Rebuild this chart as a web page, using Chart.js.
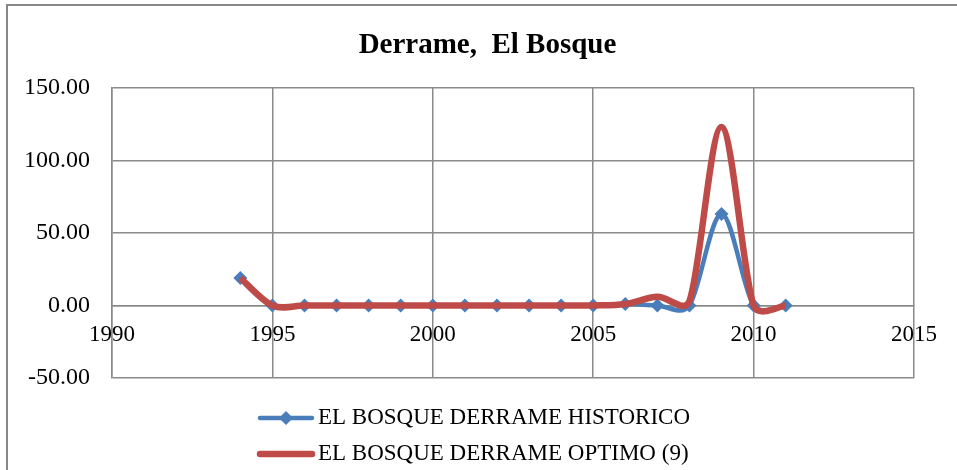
<!DOCTYPE html>
<html>
<head>
<meta charset="utf-8">
<script src="https://cdn.jsdelivr.net/npm/chart.js@4/dist/chart.umd.min.js"></script>
<style>
  html, body { margin: 0; padding: 0; background: #fff; }
  canvas { display: block; }
</style>
</head>
<body>
<canvas id="chart" width="957" height="470"></canvas>
<script>
const years = [1994, 1995, 1996, 1997, 1998, 1999, 2000, 2001, 2002, 2003, 2004, 2005, 2006, 2007, 2008, 2009, 2010, 2011];
const historico = [19, 0, 0, 0, 0, 0, 0, 0, 0, 0, 0, 0, 1, 0, 0, 63, 0, 0];
const optimo = [19, 0, 0, 0, 0, 0, 0, 0, 0, 0, 0, 0, 1, 6, 3, 123, 0, 0];
const xTicks = [1990, 1995, 2000, 2005, 2010, 2015];
const yTicks = [-50, 0, 50, 100, 150];
const seriesNames = ['EL BOSQUE DERRAME HISTORICO', 'EL BOSQUE DERRAME OPTIMO (9)'];

const BLUE = '#4A7EBB';
const RED = '#BE4B48';
const GRID = '#8a8a8a';
const SERIF = "'Liberation Serif', 'Times New Roman', serif";

function toPoints(values) {
  return years.map((y, i) => ({ x: y, y: values[i] }));
}

// outer chart frame (like the Excel chart border)
const framePlugin = {
  id: 'frame',
  beforeDraw(chart) {
    const ctx = chart.ctx;
    ctx.save();
    ctx.fillStyle = '#fff';
    ctx.fillRect(0, 0, chart.width, chart.height);
    ctx.strokeStyle = '#878787';
    ctx.lineWidth = 2;
    ctx.strokeRect(7, 5, chart.width + 10, chart.height + 10);
    ctx.restore();
  }
};

// Excel-like smoothing: Catmull-Rom handles, shortened next to short segments
const smoothPlugin = {
  id: 'smooth',
  beforeDatasetDraw(chart, args) {
    const line = args.meta.dataset;
    const pts = args.meta.data;
    line.updateControlPoints(chart.chartArea, 'x');
    pts.forEach((p, i) => {
      const prev = pts[i - 1] || p;
      const next = pts[i + 1] || p;
      const d01 = Math.hypot(p.x - prev.x, p.y - prev.y);
      const d12 = Math.hypot(next.x - p.x, next.y - p.y);
      const sum = d01 + d12 || 1;
      const fIn = Math.min(1 / 6, 0.5 * d01 / sum);
      const fOut = Math.min(1 / 6, 0.5 * d12 / sum);
      const dx = next.x - prev.x;
      const dy = next.y - prev.y;
      p.cp1x = p.x - dx * fIn;
      p.cp1y = p.y - dy * fIn;
      p.cp2x = p.x + dx * fOut;
      p.cp2y = p.y + dy * fOut;
    });
    delete line._path;
  }
};

// legend drawn under the plot, two rows, line symbols like Excel
const legendPlugin = {
  id: 'bottomLegend',
  afterDraw(chart) {
    const ctx = chart.ctx;
    const rows = [418, 454];
    ctx.save();
    chart.data.datasets.forEach((ds, i) => {
      const y = rows[i];
      ctx.strokeStyle = ds.borderColor;
      ctx.lineWidth = ds.borderWidth;
      ctx.lineCap = 'round';
      ctx.beginPath();
      ctx.moveTo(260, y);
      ctx.lineTo(312, y);
      ctx.stroke();
      if (ds.pointRadius > 0) {
        ctx.fillStyle = ds.borderColor;
        ctx.beginPath();
        ctx.moveTo(286 - 7, y);
        ctx.lineTo(286, y - 7);
        ctx.lineTo(286 + 7, y);
        ctx.lineTo(286, y + 7);
        ctx.closePath();
        ctx.fill();
      }
      ctx.fillStyle = '#000';
      ctx.font = '23px ' + SERIF;
      ctx.textBaseline = 'middle';
      ctx.textAlign = 'left';
      ctx.fillText(ds.label, 318, y);
    });
    ctx.restore();
  }
};

new Chart(document.getElementById('chart'), {
  type: 'line',
  data: {
    datasets: [
      {
        label: seriesNames[0],
        data: toPoints(historico),
        borderColor: BLUE,
        backgroundColor: BLUE,
        borderWidth: 4.5,
        pointStyle: 'rectRot',
        pointRadius: 7,
        pointBorderWidth: 0,
        pointBackgroundColor: BLUE,
        tension: 0.3,
        order: 2
      },
      {
        label: seriesNames[1],
        data: toPoints(optimo),
        borderColor: RED,
        backgroundColor: RED,
        borderWidth: 6.5,
        pointRadius: 0,
        tension: 0.3,
        order: 1
      }
    ]
  },
  options: {
    responsive: false,
    animation: false,
    layout: { padding: { left: 18, right: 0, top: 0, bottom: 92 } },
    plugins: {
      legend: { display: false },
      tooltip: { enabled: false },
      title: {
        display: true,
        text: 'Derrame,  El Bosque',
        color: '#000',
        font: { family: SERIF, size: 29, weight: 'bold' },
        padding: { top: 28, bottom: 25 }
      }
    },
    scales: {
      x: {
        type: 'linear',
        position: { y: 0 },
        min: xTicks[0],
        max: xTicks[xTicks.length - 1],
        afterBuildTicks(scale) {
          scale.ticks = xTicks.map(v => ({ value: v }));
        },
        ticks: {
          color: '#000',
          font: { family: SERIF, size: 23 },
          padding: 16,
          maxRotation: 0,
          callback: v => String(v)
        },
        grid: { color: GRID, lineWidth: 1.5, drawTicks: false },
        border: { color: GRID, width: 1.5 }
      },
      y: {
        min: yTicks[0],
        max: yTicks[yTicks.length - 1],
        afterBuildTicks(scale) {
          scale.ticks = yTicks.map(v => ({ value: v }));
        },
        afterFit(scale) {
          scale.width = 94;
        },
        ticks: {
          color: '#000',
          font: { family: SERIF, size: 24 },
          padding: 22,
          callback: v => Number(v).toFixed(2)
        },
        grid: { color: GRID, lineWidth: 1.5, drawTicks: false },
        border: { color: GRID, width: 1.5 }
      },
      // empty right margin, keeps the plot where Excel put it
      yRight: {
        position: 'right',
        ticks: { display: false },
        grid: { display: false },
        border: { display: false },
        afterFit(scale) {
          scale.width = 43;
        }
      }
    }
  },
  plugins: [framePlugin, smoothPlugin, legendPlugin]
});
</script>
</body>
</html>
